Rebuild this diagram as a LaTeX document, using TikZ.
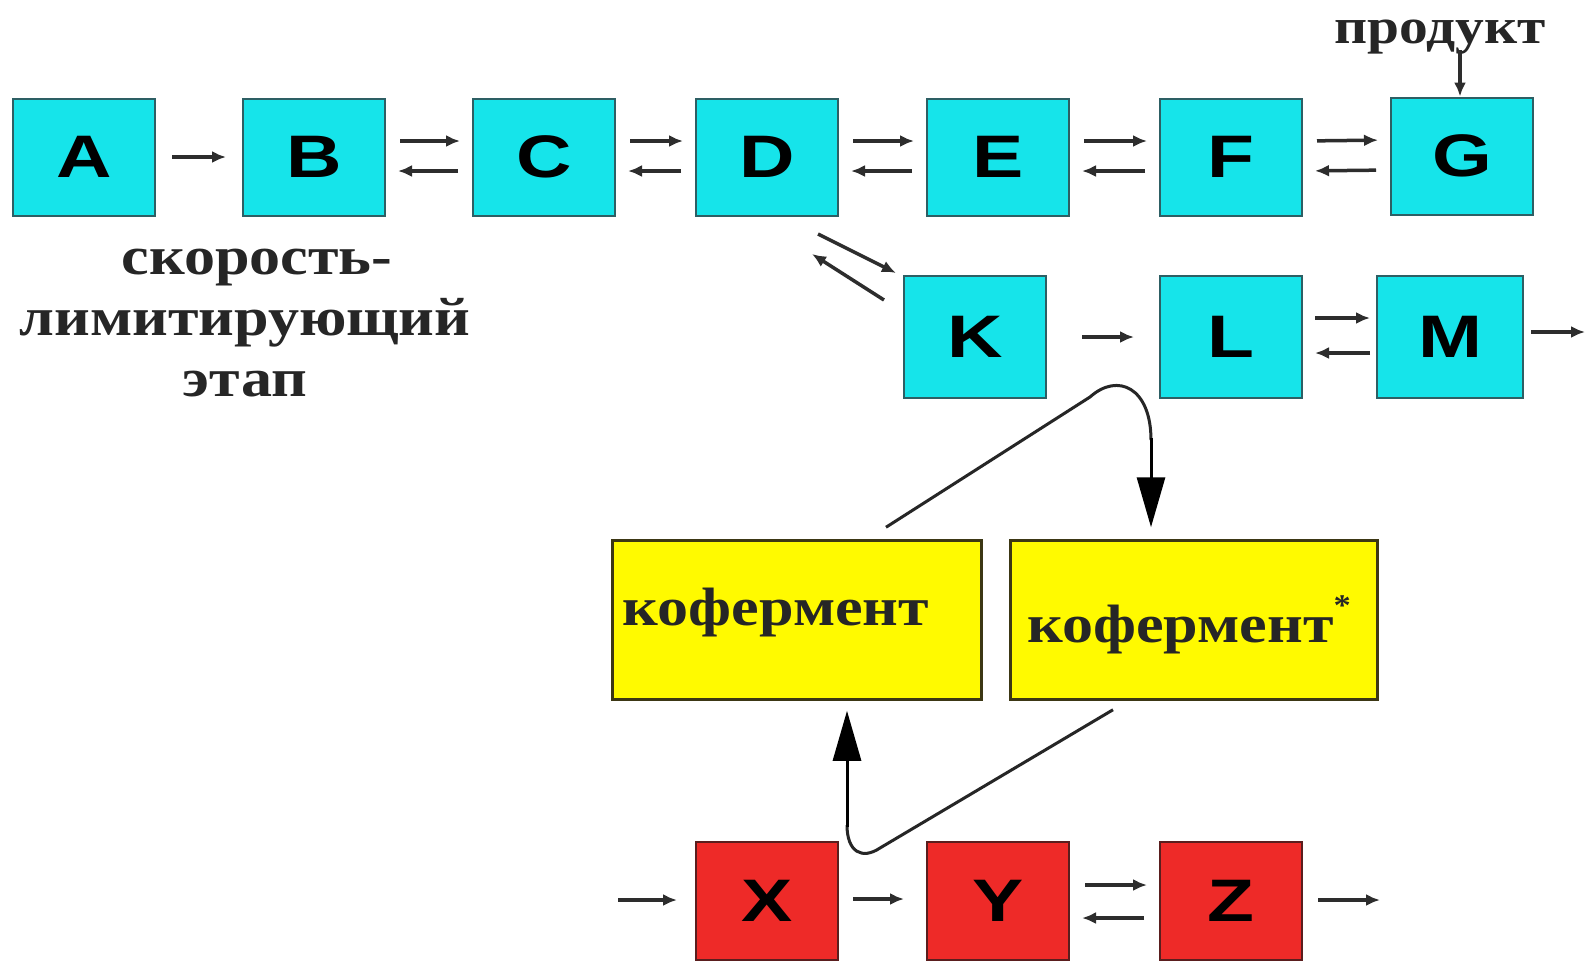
\documentclass[tikz,border=0pt]{standalone}
\usepackage{fontspec}
\setmainfont{Liberation Serif}
\newfontfamily\lsans[FakeStretch=1.28]{Liberation Sans}
\newfontfamily\rusf[FakeStretch=1.15]{Liberation Serif}
\usetikzlibrary{arrows.meta,calc}
\definecolor{cbox}{RGB}{22,228,234}
\definecolor{cedge}{RGB}{45,95,100}
\definecolor{ybox}{RGB}{255,250,0}
\definecolor{yedge}{RGB}{60,55,20}
\definecolor{rbox}{RGB}{238,42,40}
\definecolor{redge}{RGB}{90,30,30}
\definecolor{arrc}{RGB}{45,45,45}
\tikzset{
  letter/.style={font=\lsans\bfseries\fontsize{60}{60}\selectfont},
  cyanbox/.style={letter,draw=cedge,fill=cbox,line width=2pt,minimum width=142pt,minimum height=117pt,inner sep=0pt},
  redbox/.style={letter,draw=redge,fill=rbox,line width=2pt,minimum width=142pt,minimum height=118pt,inner sep=0pt},
  ylbox/.style={draw=yedge,fill=ybox,line width=2.5pt,minimum width=367pt,minimum height=159pt,inner sep=0pt},
  rus/.style={font=\rusf\bfseries\fontsize{54}{61}\selectfont,text=black!85},
  sarr/.style={draw=arrc,line width=3.5pt,-{Latex[length=14pt,width=12pt]}},
  bigarr/.style={draw=black,line width=3pt,-{Triangle[length=50pt,width=28pt]}},
  plainline/.style={draw=black!85,line width=3pt}
}
\begin{document}
\begin{tikzpicture}[x=1pt,y=-1pt]
\useasboundingbox[fill=white] (0,0) rectangle (1591,962);
% top row
\node[cyanbox] (A) at (84,157) {A};
\node[cyanbox] (B) at (314,157) {B};
\node[cyanbox] (C) at (544,157) {C};
\node[cyanbox] (D) at (767,157) {D};
\node[cyanbox] (E) at (998,157) {E};
\node[cyanbox] (F) at (1231,157) {F};
\node[cyanbox] (G) at (1462,156) {G};
% second row
\node[cyanbox,minimum height=122pt] (K) at (975,337) {K};
\node[cyanbox,minimum height=122pt] (L) at (1231,337) {L};
\node[cyanbox,minimum height=122pt,minimum width=146pt] (M) at (1450,337) {M};
% coenzymes
\node[ylbox,minimum width=369pt] (Q1) at (797,620) {};
\node[rus,anchor=center] (Q1t) at (776,613) {кофермент};
\node[ylbox] (Q2) at (1194,620) {};
\node[rus,anchor=center] (Q2t) at (1189,625) {кофермент\raisebox{0.5em}{\fontsize{30}{30}\selectfont*}};
% bottom row
\node[redbox] (X) at (767,901) {X};
\node[redbox] (Y) at (998,901) {Y};
\node[redbox] (Z) at (1231,901) {Z};
% labels
\node[rus,align=center] (lim) at (245,323) {\hspace*{24pt}скорость-\\лимитирующий\\этап};
\node[rus,anchor=base,font=\rusf\bfseries\fontsize{50}{56}\selectfont] (prod) at (1440,43) {продукт};
% arrows top row
\draw[sarr,shorten <=16pt,shorten >=16pt] (A.east) -- (B.west);
\foreach \p/\q in {B/C,C/D,D/E,E/F,F/G}{
  \draw[sarr,shorten <=14pt,shorten >=12pt] ([yshift=16pt]\p.east) -- ([yshift=16pt]\q.west);
  \draw[sarr,shorten <=14pt,shorten >=12pt] ([yshift=-14pt]\q.west) -- ([yshift=-14pt]\p.east);
}
\coordinate (prodbot) at (1460,50);
\draw[sarr] (prodbot) -- (prodbot |- G.north);
% D <-> K
\coordinate (dk1) at (818,234);
\coordinate (dk2) at (896,273);
\coordinate (kd1) at (884,300);
\coordinate (kd2) at (812,254);
\draw[sarr] (dk1) -- (dk2);
\draw[sarr] (kd1) -- (kd2);
% second row arrows
\draw[sarr,shorten <=35pt,shorten >=25pt] (K.east) -- (L.west);
\draw[sarr,shorten <=12pt,shorten >=6pt] ([yshift=19pt]L.east) -- ([yshift=19pt]M.west);
\draw[sarr,shorten <=6pt,shorten >=12pt] ([yshift=-16pt]M.west) -- ([yshift=-16pt]L.east);
\coordinate (Mout) at (1585,332);
\draw[sarr,shorten <=7pt] ([yshift=5pt]M.east) -- (Mout);
% coenzyme cycle
\draw[plainline] ([xshift=89pt,yshift=12pt]Q1.north) -- (1090,397)
   .. controls (1118,372) and (1151,388) .. (1151,440);
\draw[bigarr] (1151,438) -- ([xshift=-43pt,yshift=12pt]Q2.north);
\draw[plainline] ([xshift=-81pt,yshift=-9pt]Q2.south) -- (880,848)
   .. controls (862,860) and (847,852) .. (847,825);
\draw[bigarr] (847,827) -- ([xshift=50pt,yshift=-10pt]Q1.south);
% bottom row arrows
\coordinate (Xin) at (618,900);
\draw[sarr,shorten >=18pt] (Xin) -- ([yshift=1pt]X.west);
\draw[sarr,shorten <=14pt,shorten >=22pt] ([yshift=2pt]X.east) -- ([yshift=2pt]Y.west);
\draw[sarr,shorten <=15pt,shorten >=12pt] ([yshift=16pt]Y.east) -- ([yshift=16pt]Z.west);
\draw[sarr,shorten <=15pt,shorten >=12pt] ([yshift=-17pt]Z.west) -- ([yshift=-17pt]Y.east);
\coordinate (Zout) at (1380,900);
\draw[sarr,shorten <=15pt] ([yshift=1pt]Z.east) -- (Zout);
\end{tikzpicture}
\end{document}
